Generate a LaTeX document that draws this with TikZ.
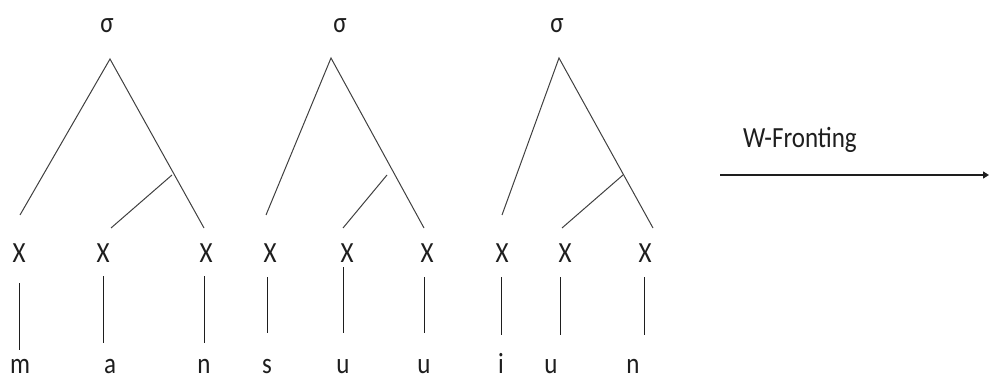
\documentclass[tikz,border=0pt]{standalone}
\usepackage{fontspec}
\setmainfont{Carlito}
\usetikzlibrary{arrows.meta}
\definecolor{ink}{HTML}{1E1E1E}
\newcommand{\tall}[1]{\scalebox{1}[1.17]{#1}}
\tikzset{
  lbl/.style={inner sep=0pt, anchor=base, text=ink, font=\fontsize{25}{25}\selectfont},
  branch/.style={draw=ink!85, line width=1pt},
  assoc/.style={draw=ink, line width=1pt},
}
\begin{document}
\begin{tikzpicture}[x=1pt,y=-1pt]
\useasboundingbox (0,0) rectangle (989,377);

% ---------- syllable 1: m a n ----------
\node[lbl] (s1) at (107,33) {\tall{σ}};
\coordinate (a1) at (110,59);
\coordinate (l1) at (20,215);
\coordinate (r1) at (204,228);
\coordinate (b1) at (172,175);
\coordinate (m1) at (111,228);
\draw[branch] (l1) -- (a1) -- (r1);
\draw[branch] (b1) -- (m1);
\node[lbl] (x11) at (19,262) {\tall{X}};
\node[lbl] (x12) at (103,262) {\tall{X}};
\node[lbl] (x13) at (206,262) {\tall{X}};
\coordinate (t11) at (19,283); \coordinate (e11) at (19,350);
\coordinate (t12) at (103,276); \coordinate (e12) at (103,343);
\coordinate (t13) at (204,276); \coordinate (e13) at (204,343);
\draw[assoc] (t11) -- (e11);
\draw[assoc] (t12) -- (e12);
\draw[assoc] (t13) -- (e13);
\node[lbl] (p11) at (20,373) {\tall{m}};
\node[lbl] (p12) at (110,373) {\tall{a}};
\node[lbl] (p13) at (204,373) {\tall{n}};

% ---------- syllable 2: s u u ----------
\node[lbl] (s2) at (340,33) {\tall{σ}};
\coordinate (a2) at (331,58);
\coordinate (l2) at (266,215);
\coordinate (r2) at (424,228);
\coordinate (b2) at (387,175);
\coordinate (m2) at (343,228);
\draw[branch] (l2) -- (a2) -- (r2);
\draw[branch] (b2) -- (m2);
\node[lbl] (x21) at (270,262) {\tall{X}};
\node[lbl] (x22) at (347,262) {\tall{X}};
\node[lbl] (x23) at (427,262) {\tall{X}};
\coordinate (t21) at (267,277); \coordinate (e21) at (267,333);
\coordinate (t22) at (343,267); \coordinate (e22) at (343,333);
\coordinate (t23) at (424,277); \coordinate (e23) at (424,333);
\draw[assoc] (t21) -- (e21);
\draw[assoc] (t22) -- (e22);
\draw[assoc] (t23) -- (e23);
\node[lbl] (p21) at (267,373) {\tall{s}};
\node[lbl] (p22) at (343,373) {\tall{u}};
\node[lbl] (p23) at (424,373) {\tall{u}};

% ---------- syllable 3: i u n ----------
\node[lbl] (s3) at (557,33) {\tall{σ}};
\coordinate (a3) at (559,58);
\coordinate (l3) at (502,215);
\coordinate (r3) at (653,228);
\coordinate (b3) at (623,175);
\coordinate (m3) at (562,228);
\draw[branch] (l3) -- (a3) -- (r3);
\draw[branch] (b3) -- (m3);
\node[lbl] (x31) at (502,262) {\tall{X}};
\node[lbl] (x32) at (565,262) {\tall{X}};
\node[lbl] (x33) at (645,262) {\tall{X}};
\coordinate (t31) at (501,277); \coordinate (e31) at (501,335);
\coordinate (t32) at (560,277); \coordinate (e32) at (560,335);
\coordinate (t33) at (644,277); \coordinate (e33) at (644,335);
\draw[assoc] (t31) -- (e31);
\draw[assoc] (t32) -- (e32);
\draw[assoc] (t33) -- (e33);
\node[lbl] (p31) at (501,373) {\tall{i}};
\node[lbl] (p32) at (551,373) {\tall{u}};
\node[lbl] (p33) at (633,373) {\tall{n}};

% ---------- rule arrow ----------
\node[lbl] (rule) at (800,148) {\tall{W-Fronting}};
\coordinate (ar0) at (720,175);
\coordinate (ar1) at (989,175);
\draw[ink, line width=1.4pt, -{Triangle[length=6pt,width=7pt]}] (ar0) -- (ar1);
\end{tikzpicture}
\end{document}
